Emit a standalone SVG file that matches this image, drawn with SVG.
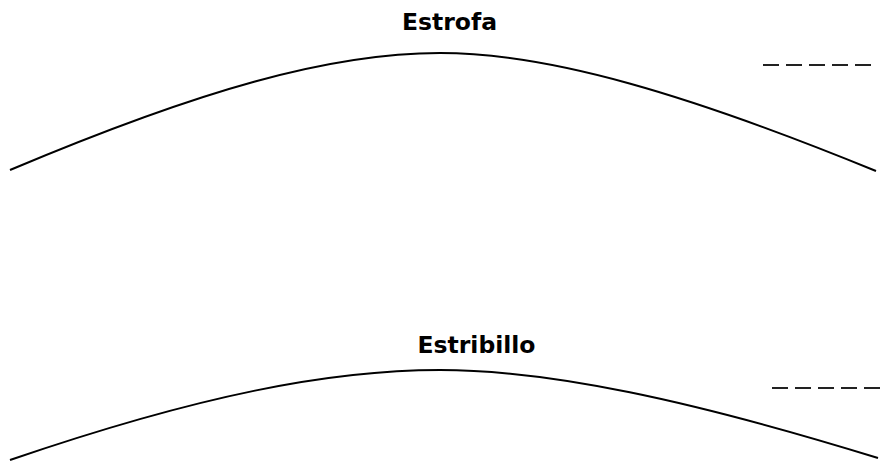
<svg xmlns="http://www.w3.org/2000/svg" width="891" height="463" viewBox="0 0 891 463">
<style>
.t{font-family:"DejaVu Sans",Verdana,sans-serif;font-weight:bold;font-size:23.5px;fill:#000;text-anchor:middle}
.c{fill:none;stroke:#000;stroke-width:2}
.d{fill:none;stroke:#222;stroke-width:2;stroke-dasharray:16 7}
</style>
<rect width="891" height="463" fill="#fff"/>
<g id="estrofa">
<text class="t" x="449.5" y="30">Estrofa</text>
<path class="c" d="M10,170 C200,90 330,53 440,53 C550,53 690,95 876,171"/>
<path class="d" d="M763,65 H872"/>
</g>
<g id="estribillo">
<text class="t" x="476.5" y="353">Estribillo</text>
<path class="c" d="M10,460 C200,395 330,370 440,370 C550,370 690,400 878,458"/>
<path class="d" d="M772,388 H881"/>
</g>
</svg>
